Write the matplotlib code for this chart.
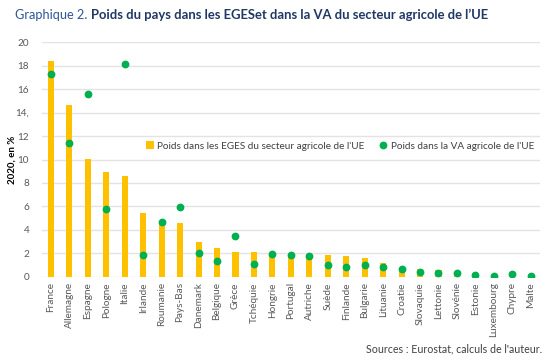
import matplotlib
matplotlib.use("Agg")
import matplotlib.pyplot as plt
from matplotlib.patches import Patch
from matplotlib.lines import Line2D

plt.rcParams['font.family'] = ['Lato', 'DejaVu Sans']

countries = ["France", "Allemagne", "Espagne", "Pologne", "Italie", "Irlande", "Roumanie",
             "Pays-Bas", "Danemark", "Belgique", "Grèce", "Tchéquie", "Hongrie", "Portugal",
             "Autriche", "Suède", "Finlande", "Bulgarie", "Lituanie", "Croatie", "Slovaquie",
             "Lettonie", "Slovénie", "Estonie", "Luxembourg", "Chypre", "Malte"]
eges = [18.4, 14.65, 10.05, 8.95, 8.55, 5.45, 4.65, 4.6, 2.95, 2.45, 2.07, 2.07, 2.0, 1.95,
        1.9, 1.82, 1.73, 1.62, 1.15, 0.65, 0.68, 0.6, 0.4, 0.2, 0.05, 0.1, 0.02]
va = [17.3, 11.45, 15.6, 5.78, 18.17, 1.83, 4.64, 5.92, 2.04, 1.38, 3.48, 1.08, 1.92, 1.85,
      1.75, 0.97, 0.81, 0.97, 0.86, 0.65, 0.37, 0.34, 0.34, 0.16, 0.07, 0.22, 0.04]
yticks = [0, 2, 4, 6, 8, 10, 12, 14, 16, 18, 20]
ytick_labels = ["0", "2", "4", "6", "8", "10", "12", "14,", "16", "18", "20"]

label_bar = "Poids dans les EGES du secteur agricole de l'UE"
label_dot = "Poids dans la VA agricole de l'UE"
title_a = "Graphique 2. "
title_b = "Poids du pays dans les EGESet dans la VA du secteur agricole de l\u2019UE"
source = "Sources : Eurostat, calculs de l'auteur."

W, H = 550, 360
fig = plt.figure(figsize=(5.5, 3.6), dpi=100)
ax = fig.add_axes([41.7 / W, 1 - 276.7 / H, (540 - 41.7) / W, (276.7 - 42.3) / H])


def fit_width(t, target):
    fig.canvas.draw()
    w = t.get_window_extent().width
    t.set_fontsize(t.get_fontsize() * target / w)
    fig.canvas.draw()


x = list(range(len(countries)))
ax.bar(x, eges, width=0.33, color="#FFC000", zorder=2)
ax.plot(x, va, linestyle="none", marker="o", markersize=4.6, color="#00B050", zorder=3)

ax.set_xlim(-0.5, len(countries) - 0.5)
ax.set_ylim(0, 20)
ax.set_yticks(yticks)
ax.set_yticklabels(ytick_labels)
ax.set_xticks(x)
ax.set_xticklabels(countries, rotation=90)
ax.tick_params(axis="both", length=0, colors="#595959", labelsize=7.2)
ax.tick_params(axis="y", pad=9)
ax.tick_params(axis="x", pad=4)
ax.grid(axis="y", color="#E3E3E3", linewidth=1.0, zorder=0)
ax.set_axisbelow(True)
for s in ax.spines.values():
    s.set_visible(False)

ax.set_ylabel("2020, en %", fontsize=7, fontweight="bold", color="black", va="center")
ax.yaxis.set_label_coords((12 - 41.7) / (540 - 41.7), 0.5)

handles = [Patch(facecolor="#FFC000", edgecolor="none"),
           Line2D([], [], linestyle="none", marker="o", markersize=4.6, color="#00B050")]
leg = ax.legend(handles, [label_bar, label_dot], ncol=2, frameon=False,
                loc="center left", bbox_to_anchor=((146 - 41.7) / (540 - 41.7), (276.7 - 146) / 234.4),
                fontsize=7.3, handlelength=0.75, handleheight=0.75, handletextpad=0.35,
                columnspacing=1.5, borderpad=0, borderaxespad=0)
for t in leg.get_texts():
    t.set_color("#404040")
fig.canvas.draw()
lt = leg.get_texts()[0]
w0 = lt.get_window_extent().width
for t in leg.get_texts():
    t.set_fontsize(t.get_fontsize() * 207 / w0)

# Title
ty = 1 - 15 / H
t1 = fig.text(15 / W, ty, title_a, fontsize=8.8, color="#2F5597", va="center", ha="left")
fit_width(t1, 76)
bb = t1.get_window_extent()
t1b = fig.text(bb.x1 / W, ty, title_b, fontsize=8.8, color="#1F3864",
               fontweight="bold", va="center", ha="left")
fit_width(t1b, 488 - bb.x1)

# Source
t2 = fig.text(542 / W, 1 - 349 / H, source, fontsize=7.3, color="#404040",
              ha="right", va="center")
fit_width(t2, 175)

fig.savefig("out.png", dpi=100)
